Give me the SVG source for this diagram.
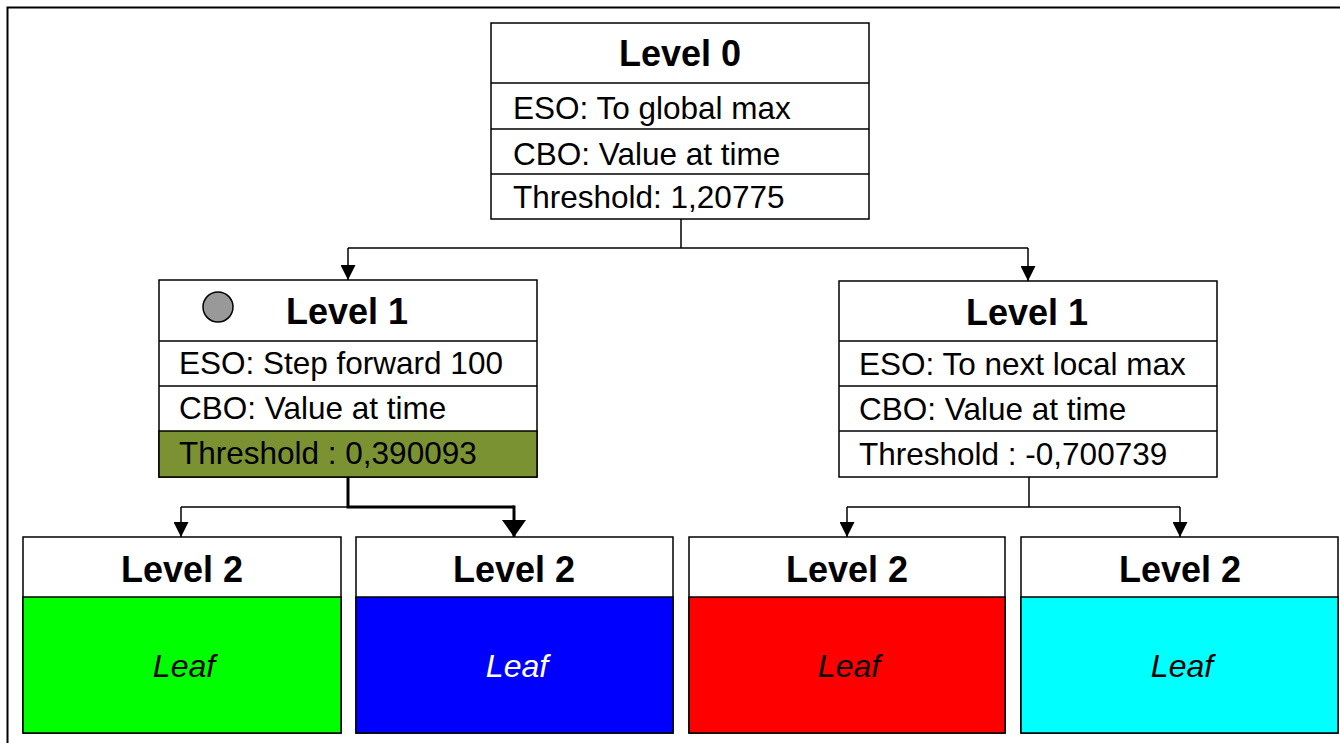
<svg xmlns="http://www.w3.org/2000/svg" width="1340" height="743" viewBox="0 0 1340 743">
<style>
.box{fill:#fff;stroke:#000;stroke-width:1.5}
.t{font-family:"Liberation Sans",Arial,sans-serif;font-size:31.5px;fill:#000}
.h{font-family:"Liberation Sans",Arial,sans-serif;font-size:36px;font-weight:bold;fill:#000;text-anchor:middle}
.leaf{font-family:"Liberation Sans",Arial,sans-serif;font-size:32px;font-style:italic;text-anchor:middle}
.c{fill:none;stroke:#000;stroke-width:1.5}
.ck{fill:none;stroke:#000;stroke-width:3}
</style>
<defs>
<marker id="a" markerWidth="15" markerHeight="15" refX="15" refY="7.5" orient="auto" markerUnits="userSpaceOnUse" viewBox="0 0 15 15">
<path d="M0,0 L15,7.5 L0,15 Z" fill="#000"/>
</marker>
<marker id="ak" markerWidth="17" markerHeight="24" refX="17" refY="12" orient="auto" markerUnits="userSpaceOnUse" viewBox="0 0 17 24">
<path d="M0,0 L17,12 L0,24 Z" fill="#000"/>
</marker>
</defs>
<rect width="1340" height="743" fill="#fff"/>
<path d="M7.5,745 V7.5 H1342" fill="none" stroke="#000" stroke-width="2"/>

<g id="connectors">
<path class="c" d="M681,219 V248 M348,248 H1028"/>
<line class="c" x1="348" y1="248" x2="348" y2="280" marker-end="url(#a)"/>
<line class="c" x1="1028" y1="248" x2="1028" y2="281" marker-end="url(#a)"/>
<path class="ck" d="M348,477 V507 H514"/>
<path class="c" d="M348,507 H181"/>
<line class="c" x1="181" y1="507" x2="181" y2="537" marker-end="url(#a)"/>
<line class="ck" x1="514" y1="505.5" x2="514" y2="537" marker-end="url(#ak)"/>
<path class="c" d="M1029,477 V507 M847,507 H1180"/>
<line class="c" x1="847" y1="507" x2="847" y2="537" marker-end="url(#a)"/>
<line class="c" x1="1180" y1="507" x2="1180" y2="537" marker-end="url(#a)"/>
</g>

<g id="level0">
<rect class="box" x="491" y="23" width="378" height="196"/>
<path class="c" d="M491,83 H869 M491,129 H869 M491,174 H869"/>
<text class="h" x="680" y="66">Level 0</text>
<text class="t" x="513" y="119">ESO: To global max</text>
<text class="t" x="513" y="165">CBO: Value at time</text>
<text class="t" x="513" y="208">Threshold: 1,20775</text>
</g>

<g id="level1-left">
<rect class="box" x="159" y="280" width="378" height="197"/>
<rect x="159" y="431" width="378" height="46" fill="#7B9232" stroke="#000" stroke-width="1.5"/>
<path class="c" d="M159,341 H537 M159,386 H537"/>
<circle cx="218" cy="307" r="15" fill="#999" stroke="#000" stroke-width="1.5"/>
<text class="h" x="347" y="324">Level 1</text>
<text class="t" x="179" y="374">ESO: Step forward 100</text>
<text class="t" x="179" y="419">CBO: Value at time</text>
<text class="t" x="179" y="464">Threshold : 0,390093</text>
</g>

<g id="level1-right">
<rect class="box" x="839" y="281" width="378" height="196"/>
<path class="c" d="M839,341 H1217 M839,386 H1217 M839,431 H1217"/>
<text class="h" x="1027" y="325">Level 1</text>
<text class="t" x="859" y="375">ESO: To next local max</text>
<text class="t" x="859" y="420">CBO: Value at time</text>
<text class="t" x="859" y="465">Threshold : -0,700739</text>
</g>

<g id="leaf1">
<rect class="box" x="23" y="537" width="318" height="196"/>
<rect x="23" y="597" width="318" height="136" fill="#00FF00" stroke="#000" stroke-width="1.5"/>
<text class="h" x="182" y="582">Level 2</text>
<text class="leaf" x="184" y="677" fill="#000">Leaf</text>
</g>
<g id="leaf2">
<rect class="box" x="356" y="537" width="317" height="196"/>
<rect x="356" y="597" width="317" height="136" fill="#0000FF" stroke="#000" stroke-width="1.5"/>
<text class="h" x="514" y="582">Level 2</text>
<text class="leaf" x="517" y="677" fill="#fff">Leaf</text>
</g>
<g id="leaf3">
<rect class="box" x="689" y="537" width="316" height="196"/>
<rect x="689" y="597" width="316" height="136" fill="#FF0000" stroke="#000" stroke-width="1.5"/>
<text class="h" x="847" y="582">Level 2</text>
<text class="leaf" x="849" y="677" fill="#000">Leaf</text>
</g>
<g id="leaf4">
<rect class="box" x="1021" y="537" width="317" height="196"/>
<rect x="1021" y="597" width="317" height="136" fill="#00FFFF" stroke="#000" stroke-width="1.5"/>
<text class="h" x="1180" y="582">Level 2</text>
<text class="leaf" x="1182" y="677" fill="#000">Leaf</text>
</g>
</svg>
